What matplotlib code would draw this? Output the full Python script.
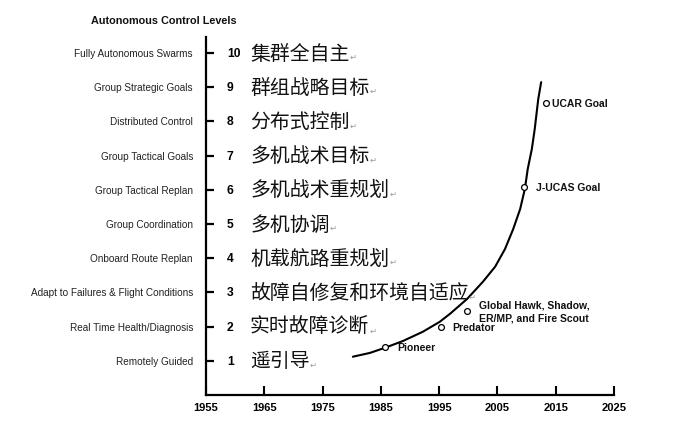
import matplotlib
matplotlib.use("Agg")
import matplotlib.pyplot as plt

plt.rcParams['font.family'] = ['Liberation Sans', 'Noto Sans CJK SC', 'DejaVu Sans']

# ---- data ----
levels = [10, 9, 8, 7, 6, 5, 4, 3, 2, 1]
english_labels = [
    "Fully Autonomous Swarms", "Group Strategic Goals", "Distributed Control",
    "Group Tactical Goals", "Group Tactical Replan", "Group Coordination",
    "Onboard Route Replan", "Adapt to Failures & Flight Conditions",
    "Real Time Health/Diagnosis", "Remotely Guided",
]
chinese_labels = [
    "集群全自主", "群组战略目标", "分布式控制", "多机战术目标", "多机战术重规划",
    "多机协调", "机载航路重规划", "故障自修复和环境自适应", "实时故障诊断", "遥引导",
]
year_ticks = [1955, 1965, 1975, 1985, 1995, 2005, 2015, 2025]

curve_years = [1980.2, 1983.1, 1985.7, 1988.8, 1992.2, 1995.1, 1996.9, 1999.8,
               2002.5, 2004.6, 2006.3, 2007.7, 2008.9, 2009.7, 2010.2, 2010.9,
               2011.4, 2012.0, 2012.5]
curve_levels = [1.12, 1.23, 1.38, 1.58, 1.85, 2.14, 2.38, 2.81,
                3.31, 3.75, 4.27, 4.85, 5.44, 6.02, 6.61, 7.19,
                7.78, 8.65, 9.15]

point_names = ["Pioneer", "Predator", "Global Hawk, Shadow,\nER/MP, and Fire Scout",
               "J-UCAS Goal", "UCAR Goal"]
point_years = [1985.7, 1995.3, 1999.8, 2009.5, 2013.3]
point_levels = [1.40, 1.99, 2.46, 6.08, 8.54]

# ---- figure ----
fig = plt.figure(figsize=(6.8, 4.31), dpi=100)
ax = fig.add_axes([206 / 680, 1 - 396 / 431, (614 - 206) / 680, (396 - 38) / 431])
ax.set_xlim(1955, 2025)
ax.set_ylim(0, 10.47)

for s in ['top', 'right']:
    ax.spines[s].set_visible(False)
for s in ['left', 'bottom']:
    ax.spines[s].set_linewidth(1.6)

ax.set_xticks(year_ticks)
ax.set_xticklabels([str(y) for y in year_ticks], fontsize=8, fontweight='bold')
ax.tick_params(axis='x', direction='in', length=6.5, width=1.5, pad=5)
ax.set_yticks(levels)
ax.set_yticklabels([])
ax.tick_params(axis='y', direction='in', length=6, width=1.6, pad=0)

# curve and points
ax.plot(curve_years, curve_levels, color='black', lw=1.5, zorder=2,
        solid_joinstyle='round', solid_capstyle='round')
ax.plot(point_years, point_levels, 'o', ms=4.2, mfc='white', mec='black', mew=0.9, zorder=3)

offsets = [8.6, 8.0, 8.6, 8.6, 4.3]
for name, x, y, dx in zip(point_names, point_years, point_levels, offsets):
    ax.annotate(name, xy=(x, y), xytext=(dx, 0), textcoords='offset points',
                ha='left', va='center', fontsize=7.5, fontweight='bold',
                linespacing=1.3, color='#111111')

# level labels
for lv, en, zh in zip(levels, english_labels, chinese_labels):
    ax.annotate(en, xy=(1955, lv), xytext=(-9.4, 0), textcoords='offset points',
                ha='right', va='center', fontsize=7.2, color='#222222',
                annotation_clip=False)
    ax.annotate(str(lv), xy=(1955, lv), xytext=(15.1, 0), textcoords='offset points',
                ha='left', va='center', fontsize=8.7, fontweight='bold',
                annotation_clip=False)
    t = ax.annotate(zh, xy=(1955, lv), xytext=(31.7, 0), textcoords='offset points',
                    ha='left', va='center', fontsize=14.3, color='#111111',
                    family=['Noto Sans CJK SC', 'DejaVu Sans'],
                    annotation_clip=False)
    ax.annotate('↵', xy=(1, 0.12), xycoords=t, ha='left', va='bottom',
                fontsize=6, color='#999999', family=['DejaVu Sans'],
                annotation_clip=False)

fig.text(91 / 680, 1 - 21 / 431, "Autonomous Control Levels", ha='left', va='center',
         fontsize=7.8, fontweight='bold', color='#111111')

fig.savefig("out.png", dpi=100)
